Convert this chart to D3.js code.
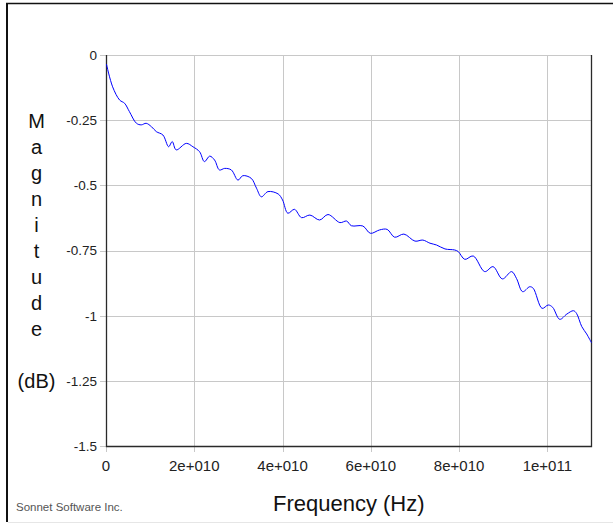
<!DOCTYPE html>
<html>
<head>
<meta charset="utf-8">
<script src="https://cdn.jsdelivr.net/npm/d3@7"></script>
<style>
body { margin: 0; background: #fff; }
svg { display: block; font-family: Arial, "Liberation Sans", sans-serif; }
</style>
</head>
<body>
<script>
const width = 613;
const height = 524;
const plot = {left: 106, right: 591.5, top: 55, bottom: 446};

// frequency in GHz, magnitude in dB
const freqGHz = [0.1, 1.5, 3.1, 4.2, 5.3, 6.9, 8.0, 9.1, 10.3, 11.4, 12.9, 14.2, 15.0, 15.9,
    18.2, 19.7, 21.2, 22.3, 23.5, 24.6, 25.7, 26.9, 28.4, 29.9, 31.0, 32.9, 34.1, 35.2,
    36.7, 39.0, 40.0, 41.2, 42.7, 44.3, 46.2, 48.4, 50.3, 53.0, 54.5, 55.6, 58.2, 59.9,
    62.0, 63.7, 65.4, 67.5, 70.0, 71.8, 73.4, 74.9, 76.8, 79.0, 79.8, 81.3, 83.2, 85.8,
    87.7, 89.8, 91.9, 93.0, 94.4, 96.0, 96.8, 98.8, 100.2, 101.2, 102.8, 104.4, 105.9,
    106.6, 107.8, 108.9, 110.0];
const magDB = [-0.035, -0.122, -0.173, -0.185, -0.217, -0.262, -0.268, -0.262, -0.275, -0.294,
    -0.307, -0.352, -0.332, -0.364, -0.339, -0.352, -0.371, -0.409, -0.388, -0.403, -0.441,
    -0.435, -0.441, -0.480, -0.463, -0.473, -0.511, -0.544, -0.524, -0.533, -0.556, -0.607,
    -0.592, -0.624, -0.614, -0.633, -0.612, -0.643, -0.637, -0.655, -0.656, -0.684, -0.671,
    -0.669, -0.699, -0.687, -0.714, -0.710, -0.722, -0.729, -0.744, -0.748, -0.754, -0.784,
    -0.771, -0.831, -0.812, -0.859, -0.831, -0.857, -0.908, -0.889, -0.895, -0.972, -0.959,
    -0.968, -1.014, -0.994, -0.981, -0.991, -1.042, -1.070, -1.104];

const xTicks = [0, 2e10, 4e10, 6e10, 8e10, 1e11];
const xTickLabels = ["0", "2e+010", "4e+010", "6e+010", "8e+010", "1e+011"];
const yTicks = [0, -0.25, -0.5, -0.75, -1, -1.25, -1.5];
const yTickLabels = ["0", "-0.25", "-0.5", "-0.75", "-1", "-1.25", "-1.5"];
const yTitleLetters = ["M", "a", "g", "n", "i", "t", "u", "d", "e"];

const data = freqGHz.map((f, i) => ({f: f * 1e9, m: magDB[i]}));

const x = d3.scaleLinear().domain([0, 1.1e11]).range([plot.left, plot.right]);
const y = d3.scaleLinear().domain([-1.5, 0]).range([plot.bottom, plot.top]);

const svg = d3.select("body")
    .append("svg")
    .attr("width", width)
    .attr("height", height);

// outer frame
svg.append("line").attr("x1", 7).attr("x2", 7).attr("y1", 3).attr("y2", 522)
    .attr("stroke", "#111").attr("stroke-width", 2);
svg.append("line").attr("x1", 6).attr("x2", width).attr("y1", 3.5).attr("y2", 3.5)
    .attr("stroke", "#111").attr("stroke-width", 1.5);
svg.append("line").attr("x1", 8).attr("x2", width).attr("y1", 522.5).attr("y2", 522.5)
    .attr("stroke", "#e6e6e6").attr("stroke-width", 1);

// grid
svg.append("g")
    .selectAll("line")
    .data(yTicks)
    .join("line")
    .attr("x1", plot.left - 6).attr("x2", plot.right)
    .attr("y1", d => Math.round(y(d)) + 0.5).attr("y2", d => Math.round(y(d)) + 0.5)
    .attr("stroke", "#c8c8c8");

svg.append("g")
    .selectAll("line")
    .data(xTicks)
    .join("line")
    .attr("x1", d => Math.round(x(d)) + 0.5).attr("x2", d => Math.round(x(d)) + 0.5)
    .attr("y1", plot.top).attr("y2", plot.bottom + 6)
    .attr("stroke", "#c8c8c8");

// plot border
const bx0 = plot.left + 0.5, bx1 = Math.round(plot.right) - 0.5, by1 = plot.bottom + 0.5;
svg.append("path")
    .attr("d", `M${bx0},${plot.top}V${by1}H${bx1}V${plot.top}`)
    .attr("fill", "none")
    .attr("stroke", "#2a2a2a")
    .attr("stroke-width", 1.3);

// tick labels
svg.append("g")
    .selectAll("text")
    .data(yTicks)
    .join("text")
    .attr("x", 97)
    .attr("y", d => y(d))
    .attr("dy", "0.36em")
    .attr("text-anchor", "end")
    .attr("font-size", 13.5)
    .attr("fill", "#222")
    .text((d, i) => yTickLabels[i]);

svg.append("g")
    .selectAll("text")
    .data(xTicks)
    .join("text")
    .attr("x", d => x(d))
    .attr("y", 470.5)
    .attr("text-anchor", "middle")
    .attr("font-size", 15)
    .attr("fill", "#222")
    .text((d, i) => xTickLabels[i]);

// axis titles
svg.append("g")
    .selectAll("text")
    .data(yTitleLetters)
    .join("text")
    .attr("x", 36.5)
    .attr("y", (d, i) => 127.5 + i * 26)
    .attr("text-anchor", "middle")
    .attr("font-size", 20)
    .attr("fill", "#111")
    .text(d => d);

svg.append("text")
    .attr("x", 36.5).attr("y", 388)
    .attr("text-anchor", "middle")
    .attr("font-size", 20)
    .attr("fill", "#111")
    .text("(dB)");

svg.append("text")
    .attr("x", (plot.left + plot.right) / 2).attr("y", 510.5)
    .attr("text-anchor", "middle")
    .attr("font-size", 22)
    .attr("fill", "#111")
    .text("Frequency (Hz)");

svg.append("text")
    .attr("x", 16).attr("y", 510.5)
    .attr("font-size", 11.5)
    .attr("fill", "#555")
    .text("Sonnet Software Inc.");

// trace
const line = d3.line()
    .x(d => x(d.f))
    .y(d => y(d.m))
    .curve(d3.curveCatmullRom);

svg.append("path")
    .datum(data)
    .attr("d", line)
    .attr("fill", "none")
    .attr("stroke", "#0000ff")
    .attr("stroke-width", 1);
</script>
</body>
</html>
